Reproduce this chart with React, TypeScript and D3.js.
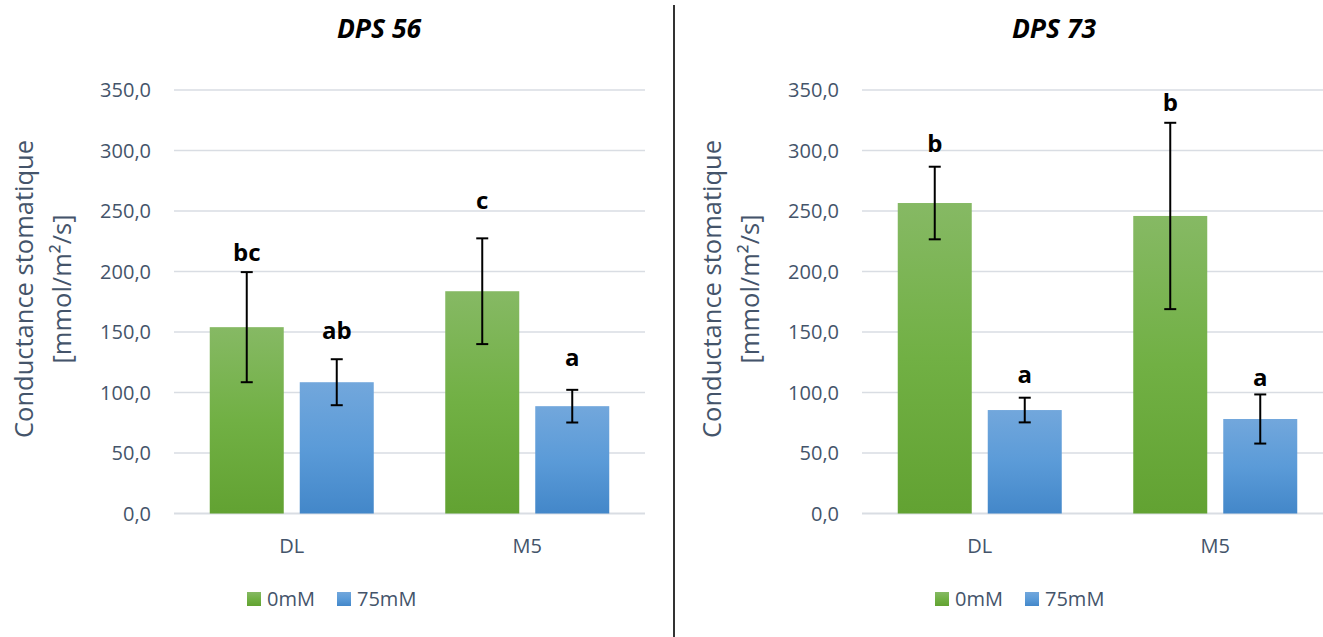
import React from "react";
import * as d3 from "d3";

// Genotypes on the x axis
const categories = ["DL", "M5"];
// Salt treatments (series)
const seriesNames = ["0mM", "75mM"];
// Y axis ticks
const yTicks = [0, 50, 100, 150, 200, 250, 300, 350];

// DPS 56 : means and standard errors [0mM, 75mM] per genotype
const dps56Means = [
  [154, 108.5],
  [183.7, 88.7],
];
const dps56Errors = [
  [45.5, 19],
  [43.7, 13.5],
];
const dps56Letters = [
  ["bc", "ab"],
  ["c", "a"],
];
// Height (in data units) of each significance letter's baseline
const dps56LetterAt = [
  [209, 144],
  [252, 122],
];

// DPS 73
const dps73Means = [
  [256.6, 85.5],
  [245.9, 78.1],
];
const dps73Errors = [
  [30, 10.2],
  [77, 20.3],
];
const dps73Letters = [
  ["b", "a"],
  ["b", "a"],
];
const dps73LetterAt = [
  [299, 108],
  [333, 105.5],
];

const FONT = "'Open Sans', 'Noto Sans', sans-serif";
const TEXT_COLOR = "#44546A";
const GRID = "#D9DDE3";

type Panel = {
  title: string;
  offset: number;
  titleX: number;
  plotLeft: number;
  means: number[][];
  errors: number[][];
  letters: string[][];
  letterAt: number[][];
};

const panels: Panel[] = [
  {
    title: "DPS 56",
    offset: 0,
    titleX: 379,
    plotLeft: 174,
    means: dps56Means,
    errors: dps56Errors,
    letters: dps56Letters,
    letterAt: dps56LetterAt,
  },
  {
    title: "DPS 73",
    offset: 675,
    titleX: 379,
    plotLeft: 187,
    means: dps73Means,
    errors: dps73Errors,
    letters: dps73Letters,
    letterAt: dps73LetterAt,
  },
];

const PLOT_W = 471;
const Y_TOP = 90;
const Y_BOTTOM = 513.5;
const BAR_W = 74;
const BAR_GAP = 16;

const fmt = (v: number) => d3.format(".1f")(v).replace(".", ",");

function ChartPanel({ p, idx }: { p: Panel; idx: number }) {
  const x = d3
    .scaleBand<string>()
    .domain(categories)
    .range([p.plotLeft, p.plotLeft + PLOT_W]);
  const groupW = BAR_W * 2 + BAR_GAP;
  const xs = d3
    .scaleBand<string>()
    .domain(seriesNames)
    .range([0, groupW])
    .paddingInner(BAR_GAP / (BAR_W + BAR_GAP));
  const y = d3.scaleLinear().domain([0, 350]).range([Y_BOTTOM, Y_TOP]);
  const groupOffset = (x.bandwidth() - groupW) / 2;
  const fills = [`url(#g-green-${idx})`, `url(#g-blue-${idx})`];
  const legendX = p.plotLeft + 73;

  return (
    <g transform={`translate(${p.offset},0)`}>
      <defs>
        <linearGradient id={`g-green-${idx}`} x1="0" y1="0" x2="0" y2="1">
          <stop offset="0%" stopColor="#86B964" />
          <stop offset="50%" stopColor="#71B044" />
          <stop offset="100%" stopColor="#62A232" />
        </linearGradient>
        <linearGradient id={`g-blue-${idx}`} x1="0" y1="0" x2="0" y2="1">
          <stop offset="0%" stopColor="#72A7DC" />
          <stop offset="50%" stopColor="#5B9BD8" />
          <stop offset="100%" stopColor="#4387C9" />
        </linearGradient>
      </defs>

      <text
        x={p.titleX}
        y={38}
        textAnchor="middle"
        fontFamily={FONT}
        fontWeight="bold"
        fontStyle="italic"
        fontSize={26.5}
        fill="#000"
      >
        {p.title}
      </text>

      {/* gridlines and tick labels */}
      {yTicks.map((t) => (
        <g key={t}>
          <line
            x1={p.plotLeft}
            x2={p.plotLeft + PLOT_W}
            y1={y(t)}
            y2={y(t)}
            stroke={GRID}
            strokeWidth={t === 0 ? 2 : 1.6}
          />
          <text
            x={p.plotLeft - 23}
            y={y(t)}
            dy="0.36em"
            textAnchor="end"
            fontFamily={FONT}
            fontSize={20}
            fill={TEXT_COLOR}
          >
            {fmt(t)}
          </text>
        </g>
      ))}

      {/* y axis title */}
      <text
        transform={`translate(${p.plotLeft - 141},289) rotate(-90)`}
        textAnchor="middle"
        fontFamily={FONT}
        fontSize={25.5}
        fill={TEXT_COLOR}
      >
        <tspan x={0} dy={0}>
          Conductance stomatique
        </tspan>
        <tspan x={0} dy={38}>
          [mmol/m²/s]
        </tspan>
      </text>

      {/* bars, error bars, letters */}
      {categories.map((c, ci) => (
        <g key={c}>
          {seriesNames.map((s, si) => {
            const m = p.means[ci][si];
            const e = p.errors[ci][si];
            const bx = (x(c) as number) + groupOffset + (xs(s) as number);
            const cx = bx + xs.bandwidth() / 2;
            return (
              <g key={s}>
                <rect
                  x={bx}
                  y={y(m)}
                  width={xs.bandwidth()}
                  height={y(0) - y(m)}
                  fill={fills[si]}
                />
                <line x1={cx} x2={cx} y1={y(m + e)} y2={y(m - e)} stroke="#000" strokeWidth={2} />
                <line x1={cx - 6} x2={cx + 6} y1={y(m + e)} y2={y(m + e)} stroke="#000" strokeWidth={2} />
                <line x1={cx - 6} x2={cx + 6} y1={y(m - e)} y2={y(m - e)} stroke="#000" strokeWidth={2} />
                <text
                  x={cx}
                  y={y(p.letterAt[ci][si])}
                  textAnchor="middle"
                  fontFamily={FONT}
                  fontWeight="bold"
                  fontSize={24}
                  fill="#000"
                >
                  {p.letters[ci][si]}
                </text>
              </g>
            );
          })}
          <text
            x={(x(c) as number) + x.bandwidth() / 2}
            y={553}
            textAnchor="middle"
            fontFamily={FONT}
            fontSize={20}
            fill={TEXT_COLOR}
          >
            {c}
          </text>
        </g>
      ))}

      {/* legend */}
      <rect x={legendX} y={592} width={14} height={14} fill={fills[0]} />
      <text x={legendX + 20} y={606} fontFamily={FONT} fontSize={20} fill={TEXT_COLOR}>
        {seriesNames[0]}
      </text>
      <rect x={legendX + 90} y={592} width={14} height={14} fill={fills[1]} />
      <text x={legendX + 110} y={606} fontFamily={FONT} fontSize={20} fill={TEXT_COLOR}>
        {seriesNames[1]}
      </text>
    </g>
  );
}

export default function App() {
  return (
    <svg
      width={1323}
      height={637}
      style={{ position: "absolute", left: 0, top: 0, background: "#fff" }}
    >
      <rect x={0} y={0} width={1323} height={637} fill="#fff" />
      {panels.map((p, i) => (
        <ChartPanel key={p.title} p={p} idx={i} />
      ))}
      <line x1={674} x2={674} y1={5} y2={637} stroke="#333" strokeWidth={2} />
    </svg>
  );
}
